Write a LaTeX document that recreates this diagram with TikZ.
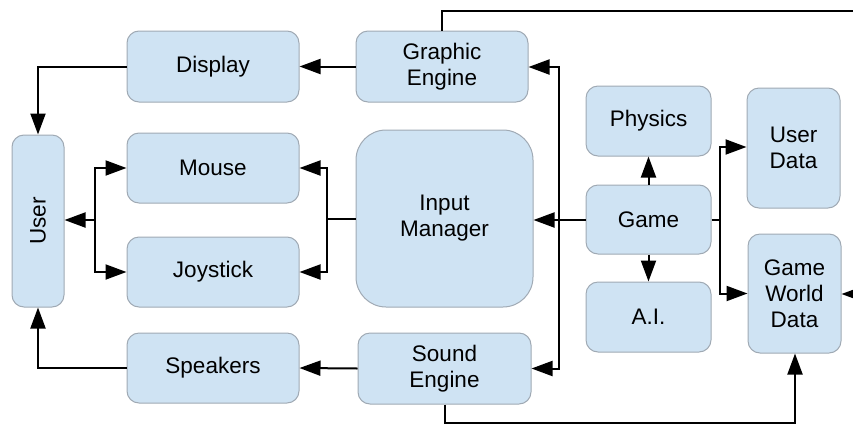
\documentclass[tikz,border=0pt]{standalone}
\usepackage{fontspec}
\setmainfont{Liberation Sans}
\usetikzlibrary{arrows.meta}
\definecolor{boxfill}{RGB}{207,227,243}
\definecolor{boxline}{RGB}{160,170,180}
\begin{document}
\begin{tikzpicture}[x=1pt,y=-1pt,
  box/.style={draw=boxline, fill=boxfill, line width=1pt, rounded corners=12pt,
    align=center, inner sep=0pt, font=\fontsize{22.5}{26}\selectfont},
  link/.style={line width=2pt, black},
  tip/.style={link, -{Triangle[length=21pt,width=15pt]}}
]
\useasboundingbox (0,0) rectangle (853,426);

% blocks
\node[box, minimum width=52pt, minimum height=172pt] (user) at (38,221)
  {\rotatebox{90}{User}};
\node[box, minimum width=172pt, minimum height=71pt] (display)  at (213,66.5) {Display};
\node[box, minimum width=172pt, minimum height=70pt] (mouse)    at (213,168)  {Mouse};
\node[box, minimum width=172pt, minimum height=70pt] (joystick) at (213,272)  {Joystick};
\node[box, minimum width=172pt, minimum height=70pt] (speakers) at (213,368)  {Speakers};
\node[box, minimum width=172pt, minimum height=71pt] (graphic)  at (442,66.5) {Graphic\\Engine};
\node[box, minimum width=177pt, minimum height=177pt, rounded corners=30pt] (input)
  at (444.5,218.5) {Input\\Manager};
\node[box, minimum width=173pt, minimum height=71pt] (sound)    at (444.5,368.5) {Sound\\Engine};
\node[box, minimum width=125pt, minimum height=70pt] (physics)  at (648.5,121) {Physics};
\node[box, minimum width=125pt, minimum height=69pt] (game)     at (648.5,219.5) {Game};
\node[box, minimum width=125pt, minimum height=70pt] (ai)       at (648.5,317) {A.I.};
\node[box, minimum width=93pt, minimum height=120pt] (udata)    at (793.5,148) {User\\Data};
\node[box, minimum width=93pt, minimum height=119pt] (gwd)      at (794.5,293.5) {Game\\World\\Data};

% junction points
\coordinate (jl) at (95,220);
\coordinate (jr) at (327,219);
\coordinate (bus) at (559,220);
\coordinate (jg) at (720,220);
\coordinate (topl) at (442,11);
\coordinate (topr) at (853,11);
\coordinate (inr) at (853,294);
\coordinate (botl) at (445,423);
\coordinate (botr) at (795,423);

% output chain to the user
\draw[tip] (graphic.west) -- (display.east);
\draw[tip] (display.west) -| (user.north);
\draw[tip] (sound.west) -- (speakers.east);
\draw[tip] (speakers.west) -| (user.south);

% input devices
\draw[tip] (jl) -- (jl -| user.east);
\draw[tip] (jl) |- (mouse.west);
\draw[tip] (jl) |- (joystick.west);
\draw[link] (input.west |- jr) -- (jr);
\draw[tip] (jr) |- (mouse.east);
\draw[tip] (jr) |- (joystick.east);

% game core
\draw[tip] (game.west |- bus) -- (input.east |- bus);
\draw[tip] (bus) |- ([yshift=-0.5pt]graphic.east);
\draw[tip] (bus) |- (sound.east);
\draw[tip] (game.north) -- (physics.south);
\draw[tip] (game.south) -- (ai.north);
\draw[link] (game.east |- jg) -- (jg);
\draw[tip] (jg) |- ([yshift=1pt]udata.west);
\draw[tip] (jg) |- (gwd.west);

% long links
\draw[link] (graphic.north) -- (topl) -- (topr);
\draw[tip] (inr) -- (gwd.east |- inr);
\draw[tip] (sound.south -| botl) -- (botl) -- (botr) -- (gwd.south -| botr);
\end{tikzpicture}
\end{document}
